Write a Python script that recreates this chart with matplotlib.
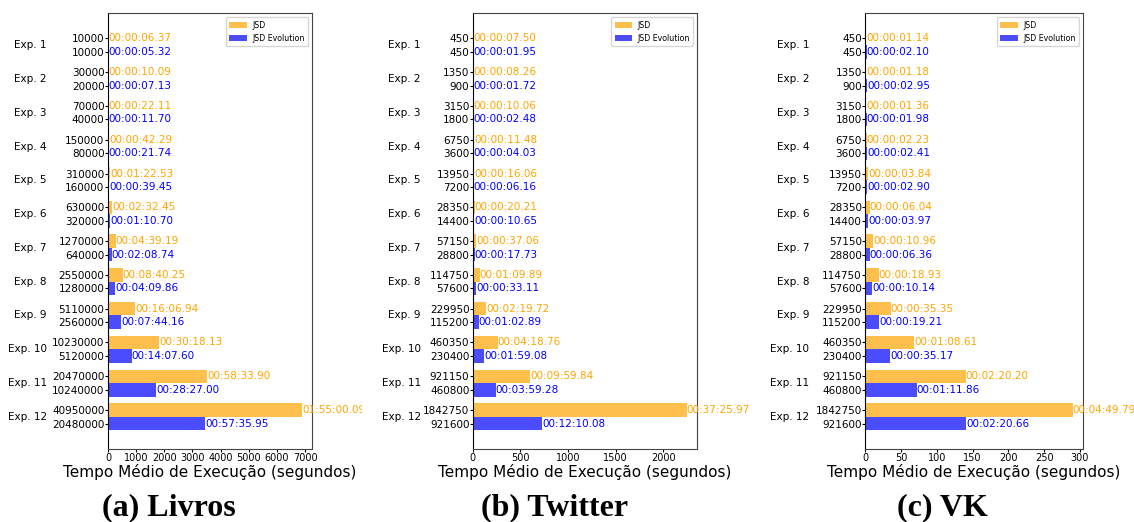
import matplotlib
matplotlib.use("Agg")
import matplotlib.pyplot as plt
from matplotlib.transforms import Bbox, TransformedBbox, offset_copy

# --- data ---
exp_labels = ["Exp. %d" % i for i in range(1, 13)]

livros_jsd_sizes = [10000, 30000, 70000, 150000, 310000, 630000, 1270000,
                    2550000, 5110000, 10230000, 20470000, 40950000]
livros_evo_sizes = [10000, 20000, 40000, 80000, 160000, 320000, 640000,
                    1280000, 2560000, 5120000, 10240000, 20480000]
livros_jsd_times = ["00:00:06.37", "00:00:10.09", "00:00:22.11", "00:00:42.29",
                    "00:01:22.53", "00:02:32.45", "00:04:39.19", "00:08:40.25",
                    "00:16:06.94", "00:30:18.13", "00:58:33.90", "01:55:00.09"]
livros_evo_times = ["00:00:05.32", "00:00:07.13", "00:00:11.70", "00:00:21.74",
                    "00:00:39.45", "00:01:10.70", "00:02:08.74", "00:04:09.86",
                    "00:07:44.16", "00:14:07.60", "00:28:27.00", "00:57:35.95"]
livros_xticks = [0, 1000, 2000, 3000, 4000, 5000, 6000, 7000]

twitter_jsd_sizes = [450, 1350, 3150, 6750, 13950, 28350, 57150,
                     114750, 229950, 460350, 921150, 1842750]
twitter_evo_sizes = [450, 900, 1800, 3600, 7200, 14400, 28800,
                     57600, 115200, 230400, 460800, 921600]
twitter_jsd_times = ["00:00:07.50", "00:00:08.26", "00:00:10.06", "00:00:11.48",
                     "00:00:16.06", "00:00:20.21", "00:00:37.06", "00:01:09.89",
                     "00:02:19.72", "00:04:18.76", "00:09:59.84", "00:37:25.97"]
twitter_evo_times = ["00:00:01.95", "00:00:01.72", "00:00:02.48", "00:00:04.03",
                     "00:00:06.16", "00:00:10.65", "00:00:17.73", "00:00:33.11",
                     "00:01:02.89", "00:01:59.08", "00:03:59.28", "00:12:10.08"]
twitter_xticks = [0, 500, 1000, 1500, 2000]

vk_jsd_sizes = twitter_jsd_sizes
vk_evo_sizes = twitter_evo_sizes
vk_jsd_times = ["00:00:01.14", "00:00:01.18", "00:00:01.36", "00:00:02.23",
                "00:00:03.84", "00:00:06.04", "00:00:10.96", "00:00:18.93",
                "00:00:35.35", "00:01:08.61", "00:02:20.20", "00:04:49.79"]
vk_evo_times = ["00:00:02.10", "00:00:02.95", "00:00:01.98", "00:00:02.41",
                "00:00:02.90", "00:00:03.97", "00:00:06.36", "00:00:10.14",
                "00:00:19.21", "00:00:35.17", "00:01:11.86", "00:02:20.66"]
vk_xticks = [0, 50, 100, 150, 200, 250, 300]


def to_seconds(t):
    h, m, s = t.split(":")
    return int(h) * 3600 + int(m) * 60 + float(s)


fig = plt.figure(figsize=(11.34, 5.22), dpi=100)

panels = [
    ("(a) Livros", livros_jsd_sizes, livros_evo_sizes, livros_jsd_times, livros_evo_times,
     livros_xticks, [0.0952, 0.140, 0.180, 0.835], 61, 169),
    ("(b) Twitter", twitter_jsd_sizes, twitter_evo_sizes, twitter_jsd_times, twitter_evo_times,
     twitter_xticks, [0.417, 0.140, 0.198, 0.835], 52, 555),
    ("(c) VK", vk_jsd_sizes, vk_evo_sizes, vk_jsd_times, vk_evo_times,
     vk_xticks, [0.763, 0.140, 0.192, 0.835], 56, 942),
]

clip = TransformedBbox(Bbox([[0, 0], [362 / 1134, 1]]), fig.transFigure)

for title, jsd_sizes, evo_sizes, jsd_times, evo_times, xticks, rect, exp_off, tx in panels:
    ax = fig.add_axes(rect)
    n = len(jsd_times)
    pos = list(range(n))
    jsd_sec = [to_seconds(t) for t in jsd_times]
    evo_sec = [to_seconds(t) for t in evo_times]
    h = 0.4
    y1 = [p - h / 2 for p in pos]
    y2 = [p + h / 2 for p in pos]
    ax.barh(y1, jsd_sec, height=h, color="orange", alpha=0.7, label="JSD")
    ax.barh(y2, evo_sec, height=h, color="blue", alpha=0.7, label="JSD Evolution")
    for y, v, t in zip(y1, jsd_sec, jsd_times):
        txt = ax.text(v, y, t, color="orange", fontsize=7.5, va="center", ha="left")
        if title.startswith("(a)"):
            txt.set_clip_box(clip)
            txt.set_clip_on(True)
    for y, v, t in zip(y2, evo_sec, evo_times):
        ax.text(v, y, t, color="blue", fontsize=7.5, va="center", ha="left")
    ax.set_yticks(y1 + y2)
    ax.set_yticklabels([str(s) for s in jsd_sizes] + [str(s) for s in evo_sizes],
                       fontsize=7.5)
    ax.set_xticks(xticks)
    ax.set_ylim(11.95, -0.95)
    ax.tick_params(axis="x", labelsize=7, pad=1, length=2)
    ax.tick_params(axis="y", pad=0.5, length=2)
    tr = offset_copy(ax.get_yaxis_transform(), fig=fig, x=-exp_off, y=0, units="dots")
    for p, lab in zip(pos, exp_labels):
        ax.text(0, p, lab, transform=tr, ha="right", va="center", fontsize=7.5)
    ax.set_xlabel("Tempo Médio de Execução (segundos)", fontsize=11, labelpad=1)
    ax.legend(loc="upper right", fontsize=5.7, handlelength=2.2, handletextpad=0.7,
              labelspacing=0.55, borderpad=0.45, borderaxespad=0.5)
    for sp in ax.spines.values():
        sp.set_color("#444444")
    ax.spines["left"].set_color("black")
    fig.text(tx / 1134, 0.027, title, ha="center", va="center",
             fontsize=23, fontweight="bold", family="Liberation Serif")

fig.savefig("out.png", dpi=100)
